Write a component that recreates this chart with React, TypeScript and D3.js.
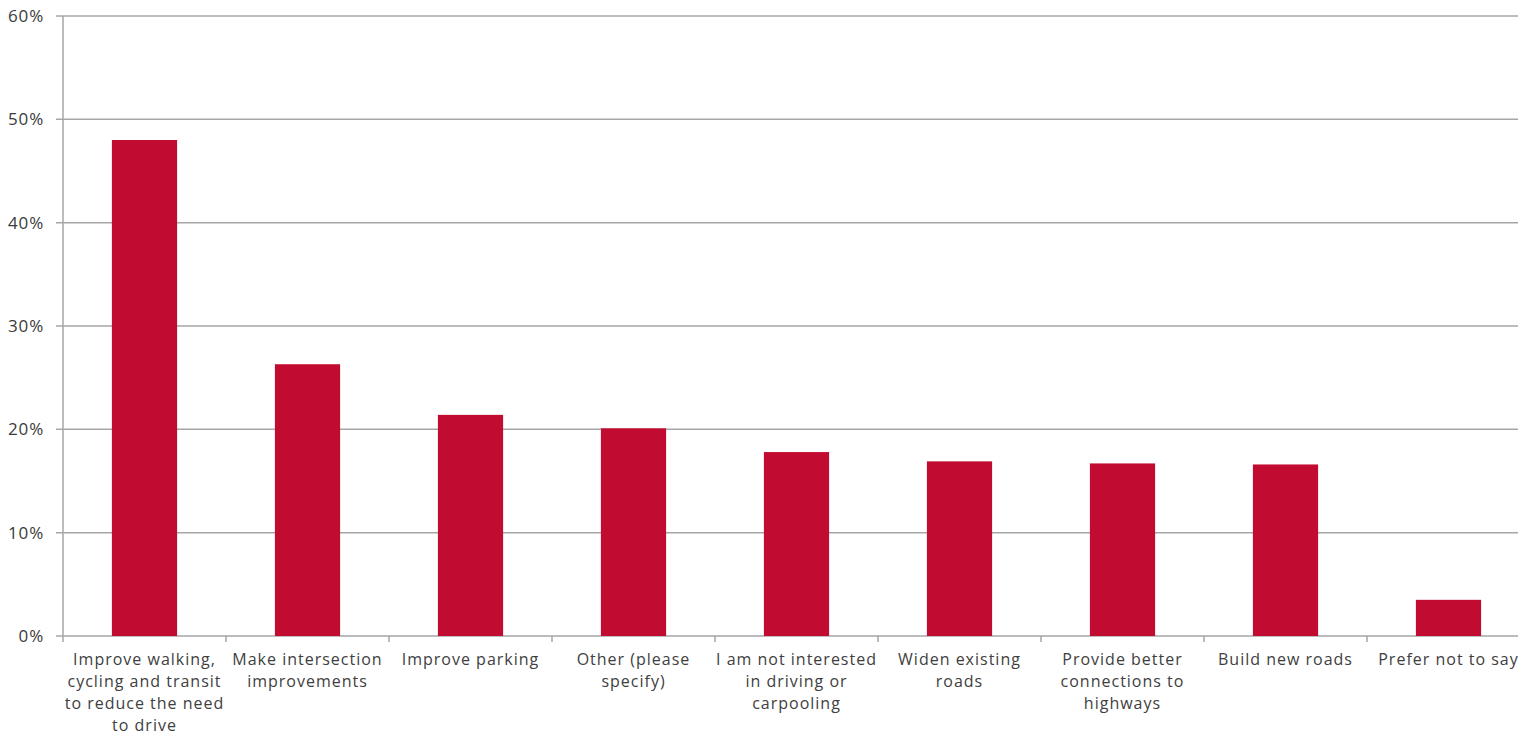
import React from "react";
import * as d3 from "d3";

const categoryLines: string[][] = [
  ["Improve walking,", "cycling and transit", "to reduce the need", "to drive"],
  ["Make intersection", "improvements"],
  ["Improve parking"],
  ["Other (please", "specify)"],
  ["I am not interested", "in driving or", "carpooling"],
  ["Widen existing", "roads"],
  ["Provide better", "connections to", "highways"],
  ["Build new roads"],
  ["Prefer not to say"],
];
const categories: string[] = categoryLines.map((l) => l.join(" "));
const values: number[] = [48.0, 26.3, 21.4, 20.1, 17.8, 16.9, 16.7, 16.6, 3.5];
const yTicks: number[] = [0, 10, 20, 30, 40, 50, 60];

const W = 1518;
const H = 735;
const left = 63;
const bandW = 163;
const top = 16;
const bottom = 636;

export default function App() {
  const x = d3
    .scaleBand<string>()
    .domain(categories)
    .range([left, left + bandW * categories.length])
    .paddingInner(0.6)
    .paddingOuter(0.3);
  const y = d3.scaleLinear().domain([0, 60]).range([bottom, top]);
  const grid = "#a6a6a6";
  const textColor = "#404040";
  const font = "'Open Sans', sans-serif";
  const boundaries = d3.range(categories.length + 1).map((i) => left + i * bandW);

  return (
    <svg
      width={W}
      height={H}
      style={{ position: "absolute", left: 0, top: 0, display: "block", background: "#fff" }}
    >
      {yTicks.map((t) => (
        <g key={t}>
          <line x1={56} x2={W} y1={y(t)} y2={y(t)} stroke={grid} strokeWidth={1.5} />
          <text
            x={44}
            y={y(t)}
            dy="0.35em"
            textAnchor="end"
            fontFamily={font}
            fontSize={17}
            fontWeight={500}
            letterSpacing={0.8}
            fill="#3a3a3a"
          >
            {t}%
          </text>
        </g>
      ))}
      <line x1={left} x2={left} y1={top} y2={bottom} stroke={grid} strokeWidth={1.5} />
      {boundaries.map((b, i) => (
        <line key={i} x1={b} x2={b} y1={bottom} y2={bottom + 6} stroke={grid} strokeWidth={1.5} />
      ))}
      {categories.map((c, i) => (
        <rect
          key={c}
          x={x(c)}
          y={y(values[i])}
          width={x.bandwidth()}
          height={y(0) - y(values[i])}
          fill="#c20b30"
        />
      ))}
      {categories.map((c, i) => (
        <text
          key={c}
          x={(x(c) as number) + x.bandwidth() / 2}
          y={665}
          textAnchor="middle"
          fontFamily={font}
          fontSize={16}
          letterSpacing={1}
          fill={textColor}
        >
          {categoryLines[i].map((ln, j) => (
            <tspan key={j} x={(x(c) as number) + x.bandwidth() / 2} dy={j === 0 ? 0 : 22}>
              {ln}
            </tspan>
          ))}
        </text>
      ))}
    </svg>
  );
}
